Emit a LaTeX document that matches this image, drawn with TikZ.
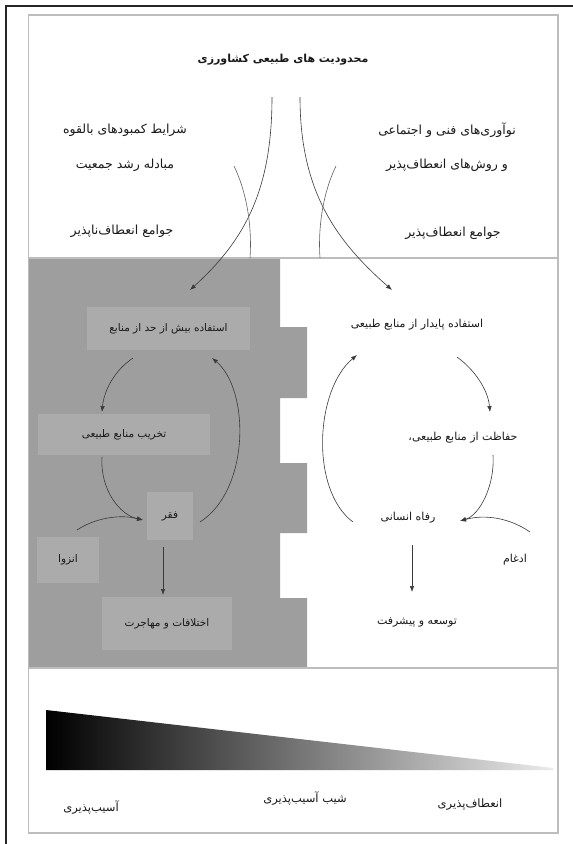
\documentclass[tikz,border=0pt]{standalone}
\usepackage{fontspec}
\newfontfamily\arabicfont[Script=Arabic]{DejaVu Sans}
\TeXXeTstate=1
\usetikzlibrary{arrows.meta,shadings}
\newcommand{\faT}[1]{\arabicfont\beginR #1\endR}
\definecolor{bggray}{HTML}{9E9E9E}
\definecolor{boxgray}{HTML}{ABABAB}
\definecolor{framegray}{HTML}{BDBDBD}
\definecolor{arrowc}{HTML}{3A3A3A}
\definecolor{txtc}{HTML}{1A1A1A}
\tikzset{
  lbl/.style={inner sep=1pt, text=txtc, font=\fontsize{11}{13}\selectfont},
  toplbl/.style={lbl, font=\fontsize{12.5}{15}\selectfont},
  botlbl/.style={lbl, font=\fontsize{11.5}{14}\selectfont},
  gbox/.style={lbl, fill=boxgray, inner sep=0pt, font=\fontsize{10.5}{13}\selectfont},
  conn/.style={draw=arrowc, line width=0.6pt, -{Latex[length=6pt,width=4.5pt]}},
  plain/.style={draw=arrowc!80, line width=0.6pt},
}
\begin{document}
\begin{tikzpicture}[x=1pt,y=-1pt]
\useasboundingbox (0,0) rectangle (573,844);
\fill[white] (0,0) rectangle (573,844);
% outer black frame (left and top only)
\draw[line width=2pt, black!85] (6,844) -- (6,6) -- (573,6);
% grey region with tabs
\fill[bggray] (29,258) -- (280,258) -- (280,327) -- (307,327) -- (307,398) -- (280,398)
  -- (280,463) -- (307,463) -- (307,533) -- (280,533) -- (280,598) -- (307,598)
  -- (307,668) -- (29,668) -- cycle;
% inner frame and dividers
\draw[framegray, line width=1.5pt] (28.5,15) rectangle (558,833);
\draw[framegray, line width=1.2pt] (28.5,258) -- (558,258);
\draw[framegray, line width=1.2pt] (28.5,668) -- (558,668);

% ---- top section texts
\node[lbl, font=\fontsize{11}{13}\bfseries] (title) at (283,60) {\faT{محدودیت های طبیعی کشاورزی}};
\node[toplbl] (l1) at (125,130) {\faT{شرایط کمبودهای بالقوه}};
\node[toplbl] (l2) at (125,165) {\faT{مبادله رشد جمعیت}};
\node[toplbl] (l3) at (122,231) {\faT{جوامع انعطاف‌ناپذیر}};
\node[toplbl] (r1) at (447,130) {\faT{نوآوری‌های فنی و اجتماعی}};
\node[toplbl] (r2) at (447,165) {\faT{و روش‌های انعطاف‌پذیر}};
\node[toplbl] (r3) at (453,233) {\faT{جوامع انعطاف‌پذیر}};

% ---- left (grey) boxes
\node[gbox, minimum width=163pt, minimum height=43pt] (over) at (168.5,328.5) {\faT{استفاده بیش از حد از منابع}};
\node[gbox, minimum width=172pt, minimum height=41pt] (destr) at (124,434.5) {\faT{تخریب منابع طبیعی}};
\node[gbox, minimum width=46pt, minimum height=48pt] (faqr) at (170,516) {\faT{فقر}};
\node[gbox, minimum width=62pt, minimum height=46pt] (enz) at (68,560) {\faT{انزوا}};
\node[gbox, minimum width=130pt, minimum height=53pt] (ekh) at (167,623.5) {\faT{اختلافات و مهاجرت}};

% ---- right (white) texts
\node[lbl] (sust) at (417,325) {\faT{استفاده پایدار از منابع طبیعی}};
\node[lbl] (hefz) at (463,438) {\faT{حفاظت از منابع طبیعی،}};
\node[lbl] (refah) at (408,518) {\faT{رفاه انسانی}};
\node[lbl] (edgh) at (515,560) {\faT{ادغام}};
\node[lbl] (tows) at (417,622) {\faT{توسعه و پیشرفت}};

% ---- bottom section
\shade[left color=black, right color=white!92!black] (46,710) -- (553,768) -- (553,770) -- (46,770) -- cycle;
\node[botlbl] (vuln) at (91,807) {\faT{آسیب‌پذیری}};
\node[botlbl] (grad) at (305,798) {\faT{شیب آسیب‌پذیری}};
\node[botlbl] (resil) at (470,805) {\faT{انعطاف‌پذیری}};

% ---- coordinates for connector ends
\coordinate (tl0) at (272,97);
\coordinate (tr0) at (300,97);
\coordinate (sl0) at (234,166);
\coordinate (sl1) at (250,258);
\coordinate (sr0) at (336,166);
\coordinate (sr1) at (320,258);
\coordinate (overIn) at (190,290);
\coordinate (sustIn) at (392,290);

% top funnel curves
\draw[conn] (tl0) .. controls (272,190) and (245,240) .. (overIn);
\draw[conn] (tr0) .. controls (300,190) and (335,240) .. (sustIn);
\draw[plain] (sl0) .. controls (248,195) and (252,230) .. (sl1);
\draw[plain] (sr0) .. controls (322,195) and (318,230) .. (sr1);

% left cycle
\coordinate (a1s) at (133,358);
\coordinate (a1e) at (102,412);
\coordinate (a2s) at (102,457);
\coordinate (faqrIn) at (143,520);
\coordinate (a3s) at (77,530);
\coordinate (a4s) at (200,522);
\coordinate (a4e) at (212,358);
\coordinate (a5s) at (163,547);
\coordinate (a5e) at (163,595);
\draw[conn] (a1s) .. controls (115,370) and (104,390) .. (a1e);
\draw[conn] (a2s) .. controls (100,490) and (120,515) .. (faqrIn);
\draw[conn] (a3s) .. controls (95,518) and (120,514) .. (faqrIn);
\draw[conn] (a4s) .. controls (250,490) and (250,390) .. (a4e);
\draw[conn] (a5s) -- (a5e);

% right cycle
\coordinate (b1s) at (457,357);
\coordinate (b1e) at (490,412);
\coordinate (b2s) at (493,455);
\coordinate (refahIn) at (460,521);
\coordinate (b3s) at (530,532);
\coordinate (b4s) at (353,522);
\coordinate (b4e) at (357,355);
\coordinate (b5s) at (412,545);
\coordinate (b5e) at (412,592);
\draw[conn] (b1s) .. controls (475,370) and (488,390) .. (b1e);
\draw[conn] (b2s) .. controls (495,485) and (480,515) .. (refahIn);
\draw[conn] (b3s) .. controls (510,518) and (485,514) .. (refahIn);
\draw[conn] (b4s) .. controls (310,490) and (315,390) .. (b4e);
\draw[conn] (b5s) -- (b5e);
\end{tikzpicture}
\end{document}
